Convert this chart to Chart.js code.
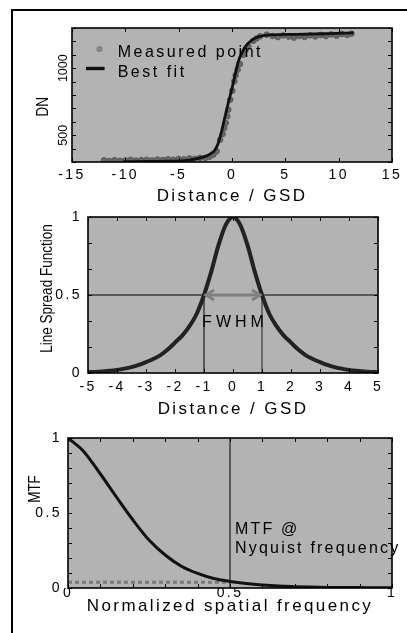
<!DOCTYPE html>
<html>
<head>
<meta charset="utf-8">
<script src="https://cdn.jsdelivr.net/npm/chart.js@4.4.1/dist/chart.umd.min.js"></script>
<style>
  html, body { margin: 0; padding: 0; background: #fff; }
  body { width: 407px; height: 633px; position: relative; overflow: hidden; }
  canvas { position: absolute; left: 0; top: 0; }
  #frame { position: absolute; left: 11px; top: 9px; width: 430px; height: 660px;
           border-left: 2px solid #000; border-top: 2px solid #000; }
</style>
</head>
<body>
<div id="frame"></div>
<canvas id="edgecanvas" width="407" height="633"></canvas>
<canvas id="lsfcanvas" width="407" height="633"></canvas>
<canvas id="mtfcanvas" width="407" height="633"></canvas>
<script>
// ---- edge profile: DN vs distance (GSD) ----
const edgeX  = [-12.0, -11.5, -11.0, -10.5, -10.0, -9.5, -9.0, -8.5, -8.0, -7.5, -7.0, -6.5, -6.0, -5.5,
                -5.0, -4.5, -4.0, -3.5, -3.0, -2.5, -2.1, -1.75, -1.44, -1.12, -0.88, -0.72, -0.59,
                -0.44, -0.34, -0.16, 0.03, 0.22, 0.34, 0.53, 0.75, 1.06, 1.3, 1.53, 2.0, 2.3, 2.63,
                3.25, 3.8, 4.3, 4.8, 5.3, 5.8, 6.3, 6.8, 7.3, 7.8, 8.3, 8.8, 9.3, 9.8, 10.3, 10.8, 11.2];
const edgeDN = [312, 308, 314, 309, 312, 316, 310, 314, 317, 312, 318, 315, 320, 317,
                323, 320, 327, 324, 331, 330, 340, 355, 380, 466, 509, 554, 591,
                641, 690, 765, 832, 902, 947, 989, 1031, 1101, 1140, 1163, 1205, 1222, 1238,
                1250, 1240, 1232, 1244, 1236, 1228, 1240, 1233, 1245, 1237, 1248, 1240, 1252, 1243, 1255, 1248, 1258];
const fitX   = [-10.2, -8.0, -6.0, -4.5, -3.5, -2.8, -2.2, -1.9, -1.6, -1.3, -1.0, -0.7, -0.35, 0.0,
                0.3, 0.6, 0.9, 1.2, 1.5, 2.2, 3.5, 6.0, 9.0, 11.4];
const fitDN  = [303, 304, 306, 310, 322, 335, 352, 368, 390, 438, 520, 625, 740, 850,
                955, 1052, 1110, 1155, 1185, 1225, 1248, 1253, 1258, 1263];
const distTicks = [-15, -10, -5, 0, 5, 10, 15];
const dnTicks   = [300, 400, 500, 600, 700, 800, 900, 1000, 1100, 1200, 1300];
const dnLabels  = [500, 1000];

// ---- line spread function ----
const lsfX = [-5, -4.75, -4.5, -4.25, -4, -3.75, -3.5, -3.25, -3, -2.75, -2.5, -2.25, -2, -1.75, -1.5, -1.25,
              -1, -0.75, -0.5, -0.25, 0, 0.25, 0.5, 0.75, 1, 1.25, 1.5, 1.75, 2, 2.25, 2.5, 2.75,
              3, 3.25, 3.5, 3.75, 4, 4.25, 4.5, 4.75, 5];
const lsfY = [0.005, 0.007, 0.01, 0.014, 0.02, 0.028, 0.038, 0.052, 0.07, 0.09, 0.115, 0.15, 0.195, 0.24, 0.3, 0.38,
              0.5, 0.65, 0.82, 0.95, 1.0, 0.95, 0.82, 0.65, 0.5, 0.38, 0.3, 0.24, 0.195, 0.15, 0.115, 0.09,
              0.07, 0.052, 0.038, 0.028, 0.02, 0.014, 0.01, 0.007, 0.005];
const lsfXTicks  = [-5, -4, -3, -2, -1, 0, 1, 2, 3, 4, 5];
const lsfYTicks  = [0, 0.167, 0.333, 0.5, 0.667, 0.833, 1];
const lsfYLabels = [0, 0.5, 1];
const fwhmX   = [-1, 1];
const halfMax = 0.5;

// ---- MTF ----
const freqX = [0, 0.045, 0.1, 0.15, 0.2, 0.25, 0.3, 0.35, 0.4, 0.45, 0.5, 0.55, 0.6, 0.65, 0.7, 0.75, 0.8, 0.85, 0.9, 0.95, 1.0];
const mtfY  = [1.0, 0.918, 0.76, 0.605, 0.455, 0.32, 0.22, 0.145, 0.097, 0.063, 0.044, 0.03, 0.02, 0.013, 0.009, 0.006, 0.004, 0.003, 0.003, 0.002, 0.002];
const tenths     = [0, 0.1, 0.2, 0.3, 0.4, 0.5, 0.6, 0.7, 0.8, 0.9, 1];
const mtfLabels  = [0, 0.5, 1];
const nyquist      = 0.5;
const mtfAtNyquist = 0.038;

const FONT = '"Liberation Sans", Arial, sans-serif';
const SPACING = '2.4px';

const pts = (xs, ys) => xs.map((x, i) => ({ x: x, y: ys[i] }));
const seg = (x0, y0, x1, y1) => [{ x: x0, y: y0 }, { x: x1, y: y1 }];

function axis(min, max, ticks, labels, size, pad, extra) {
    return Object.assign({
        type: 'linear', min: min, max: max,
        afterBuildTicks: s => { s.ticks = ticks.map(v => ({ value: v })); },
        afterFit: s => { if (s.isHorizontal()) s.height = size; else s.width = size; },
        grid: { display: false, drawTicks: false },
        border: { display: false },
        ticks: {
            autoSkip: false, maxRotation: 0, padding: pad, color: '#000',
            font: { family: FONT, size: 14 },
            callback: v => labels.includes(v) ? String(v) : ''
        }
    }, extra || {});
}

function xTitle(text) {
    return { display: true, text: text, color: '#000', padding: 0, font: { family: FONT, size: 17 } };
}

// grey plot box, inner tick marks, border, rotated y title
const panelFrame = {
    id: 'panelFrame',
    beforeDraw(chart, args, o) {
        const { ctx, chartArea: a } = chart;
        ctx.save();
        ctx.fillStyle = '#b3b3b3';
        ctx.fillRect(a.left, a.top, a.right - a.left, a.bottom - a.top);
        ctx.restore();
        ctx.letterSpacing = SPACING;
    },
    afterDatasetsDraw(chart, args, o) {
        chart.ctx.letterSpacing = o.lateSpacing || SPACING;
    },
    afterDraw(chart, args, o) {
        const { ctx, chartArea: a, scales } = chart;
        const x = scales.x, y = scales.y;
        ctx.save();
        ctx.strokeStyle = '#000';
        ctx.lineWidth = 1;
        ctx.beginPath();
        x.ticks.forEach(t => {
            const p = Math.round(x.getPixelForValue(t.value)) + 0.5;
            ctx.moveTo(p, a.top); ctx.lineTo(p, a.top + 4);
            ctx.moveTo(p, a.bottom); ctx.lineTo(p, a.bottom - 4);
        });
        y.ticks.forEach(t => {
            const p = Math.round(y.getPixelForValue(t.value)) + 0.5;
            ctx.moveTo(a.left, p); ctx.lineTo(a.left + 4, p);
            ctx.moveTo(a.right, p); ctx.lineTo(a.right - 4, p);
        });
        ctx.stroke();
        ctx.lineWidth = 1.6;
        ctx.strokeRect(a.left, a.top, a.right - a.left, a.bottom - a.top);

        // rotated title, widened across like the original print
        ctx.letterSpacing = '0px';
        ctx.fillStyle = '#000';
        ctx.font = '13.5px ' + FONT;
        ctx.translate(o.titleAt[0], o.titleAt[1]);
        ctx.rotate(-Math.PI / 2);
        ctx.scale(1, 1.25);
        ctx.textAlign = 'center';
        ctx.textBaseline = 'middle';
        ctx.fillText(o.yTitle, 0, 0);
        ctx.restore();
    }
};

const edgeNotes = {
    id: 'edgeNotes',
    afterDraw(chart) {
        const { ctx, chartArea: a } = chart;
        ctx.save();
        ctx.fillStyle = '#8a8a8a';
        ctx.strokeStyle = '#777';
        ctx.lineWidth = 1;
        ctx.beginPath();
        ctx.arc(a.left + 27.5, a.top + 21, 2.6, 0, 2 * Math.PI);
        ctx.fill(); ctx.stroke();
        ctx.fillStyle = '#111';
        ctx.fillRect(a.left + 14, a.top + 38.8, 18.6, 3.4);
        ctx.fillStyle = '#000';
        ctx.letterSpacing = '2.5px';
        ctx.font = '16px ' + FONT;
        ctx.textBaseline = 'alphabetic';
        ctx.fillText(chart.data.datasets[1].label, a.left + 45.7, a.top + 28.7);
        ctx.fillText(chart.data.datasets[0].label, a.left + 45.7, a.top + 48.7);
        ctx.restore();
    }
};

const lsfNotes = {
    id: 'lsfNotes',
    afterDatasetsDraw(chart) {
        const { ctx, scales: { x, y } } = chart;
        const py = y.getPixelForValue(halfMax);
        ctx.save();
        ctx.strokeStyle = '#808080';
        ctx.lineWidth = 3;
        ctx.beginPath();
        [[fwhmX[0], 1], [fwhmX[1], -1]].forEach(([v, dir]) => {
            const px = x.getPixelForValue(v) + dir * 2;
            ctx.moveTo(px + dir * 8, py - 5);
            ctx.lineTo(px, py);
            ctx.lineTo(px + dir * 8, py + 5);
        });
        ctx.stroke();
        ctx.letterSpacing = '4px';
        ctx.fillStyle = '#000';
        ctx.font = '16px ' + FONT;
        ctx.textAlign = 'center';
        ctx.textBaseline = 'alphabetic';
        ctx.fillText('FWHM', x.getPixelForValue(0) + 2, py + 32);
        ctx.restore();
    }
};

const mtfNotes = {
    id: 'mtfNotes',
    afterDraw(chart) {
        const { ctx, chartArea: a, scales: { x } } = chart;
        const px = x.getPixelForValue(nyquist) + 5;
        ctx.save();
        ctx.letterSpacing = '2.2px';
        ctx.fillStyle = '#000';
        ctx.font = '16px ' + FONT;
        ctx.textBaseline = 'alphabetic';
        ctx.fillText('MTF @', px, a.bottom - 54);
        ctx.fillText('Nyquist frequency', px, a.bottom - 34.7);
        ctx.restore();
    }
};

const base = {
    responsive: false,
    animation: false,
    events: [],
};
const quiet = { legend: { display: false }, tooltip: { enabled: false } };

new Chart(document.getElementById('edgecanvas').getContext('2d'), {
    type: 'scatter',
    data: {
        datasets: [{
            label: 'Best fit',
            data: pts(fitX, fitDN),
            showLine: true,
            borderColor: '#111',
            borderWidth: 2.8,
            pointRadius: 0,
            cubicInterpolationMode: 'monotone'
        }, {
            label: 'Measured point',
            data: pts(edgeX, edgeDN),
            pointRadius: 2.8,
            backgroundColor: '#686868',
            borderColor: '#5a5a5a',
            borderWidth: 1
        }]
    },
    options: Object.assign({}, base, {
        layout: { padding: { left: 0, top: 28, right: 15, bottom: 426.3 } },
        scales: {
            x: axis(-15, 15, distTicks, distTicks, 44.7, 4.6, { title: xTitle('Distance / GSD') }),
            y: (() => {
                const s = axis(300, 1300, dnTicks, dnLabels, 72, -5.4);
                s.ticks.z = 1;
                s.ticks.minRotation = 90;
                s.ticks.maxRotation = 90;
                s.ticks.crossAlign = 'center';
                s.ticks.font = { family: FONT, size: 12.5 };
                return s;
            })()
        },
        plugins: Object.assign({}, quiet, {
            panelFrame: { yTitle: 'DN', titleAt: [43.5, 106.7], lateSpacing: '0px' }
        })
    }),
    plugins: [panelFrame, edgeNotes]
});

new Chart(document.getElementById('lsfcanvas').getContext('2d'), {
    type: 'scatter',
    data: {
        datasets: [{
            label: 'LSF',
            data: pts(lsfX, lsfY),
            showLine: true,
            borderColor: '#222',
            borderWidth: 4,
            pointRadius: 0,
            cubicInterpolationMode: 'monotone'
        }, {
            label: 'FWHM',
            data: seg(fwhmX[0], halfMax, fwhmX[1], halfMax),
            showLine: true,
            borderColor: '#808080',
            borderWidth: 3,
            pointRadius: 0
        }, {
            label: 'half max',
            data: seg(lsfXTicks[0], halfMax, lsfXTicks[lsfXTicks.length - 1], halfMax),
            showLine: true,
            borderColor: '#000',
            borderWidth: 1,
            pointRadius: 0
        }, {
            label: 'left',
            data: seg(fwhmX[0], 0, fwhmX[0], halfMax),
            showLine: true,
            borderColor: '#000',
            borderWidth: 1,
            pointRadius: 0
        }, {
            label: 'right',
            data: seg(fwhmX[1], 0, fwhmX[1], halfMax),
            showLine: true,
            borderColor: '#222',
            borderWidth: 1,
            pointRadius: 0
        }]
    },
    options: Object.assign({}, base, {
        layout: { padding: { left: 0, top: 217, right: 29, bottom: 213.8 } },
        scales: {
            x: axis(-5, 5, lsfXTicks, lsfXTicks, 46.2, 5.3, { title: xTitle('Distance / GSD') }),
            y: axis(0, 1, lsfYTicks, lsfYLabels, 88, 6)
        },
        plugins: Object.assign({}, quiet, {
            panelFrame: { yTitle: 'Line Spread Function', titleAt: [47, 288.5] }
        })
    }),
    plugins: [panelFrame, lsfNotes]
});

new Chart(document.getElementById('mtfcanvas').getContext('2d'), {
    type: 'scatter',
    data: {
        datasets: [{
            label: 'MTF',
            data: pts(freqX, mtfY),
            showLine: true,
            borderColor: '#111',
            borderWidth: 3,
            pointRadius: 0,
            cubicInterpolationMode: 'monotone'
        }, {
            label: 'Nyquist',
            data: seg(nyquist, 0, nyquist, 1),
            showLine: true,
            borderColor: '#000',
            borderWidth: 1,
            pointRadius: 0
        }, {
            label: 'MTF @ Nyquist',
            data: seg(0, mtfAtNyquist, nyquist, mtfAtNyquist),
            showLine: true,
            borderColor: '#7a7a7a',
            borderWidth: 3,
            borderDash: [4, 3],
            pointRadius: 0
        }]
    },
    options: Object.assign({}, base, {
        layout: { padding: { left: 0, top: 438, right: 15, bottom: 16.8 } },
        scales: {
            x: axis(0, 1, tenths, mtfLabels, 28.2, -3.4, { title: xTitle('Normalized spatial frequency') }),
            y: axis(0, 1, tenths, mtfLabels, 68, 6)
        },
        plugins: Object.assign({}, quiet, {
            panelFrame: { yTitle: 'MTF', titleAt: [35.5, 489] }
        })
    }),
    plugins: [panelFrame, mtfNotes]
});
</script>
</body>
</html>
